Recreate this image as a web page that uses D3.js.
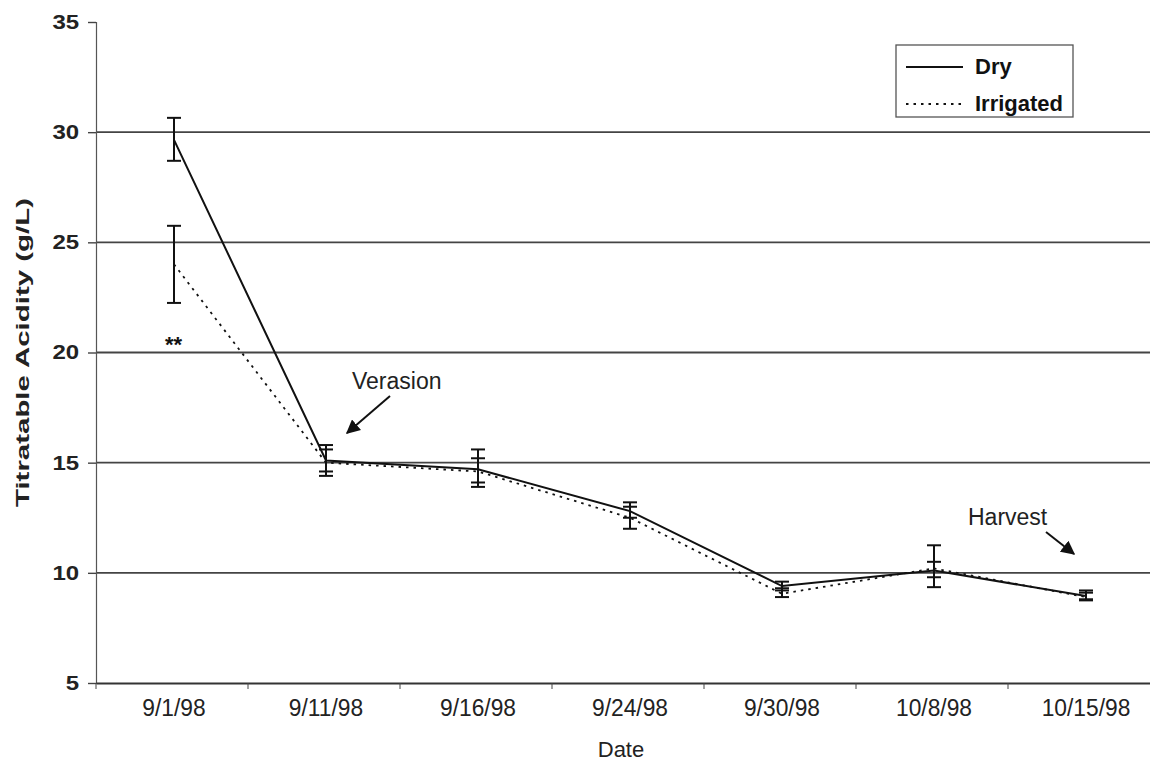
<!DOCTYPE html>
<html>
<head>
<meta charset="utf-8">
<script src="https://cdn.jsdelivr.net/npm/d3@7"></script>
<style>
  body { margin: 0; background: #fff; }
  svg { display: block; }
</style>
</head>
<body>
<svg id="chart" width="1150" height="764"></svg>
<script>
const dates = ["9/1/98", "9/11/98", "9/16/98", "9/24/98", "9/30/98", "10/8/98", "10/15/98"];
const dryMean = [29.65, 15.1, 14.7, 12.8, 9.4, 10.1, 8.95];
const dryLow = [28.7, 14.4, 13.9, 12.5, 9.2, 9.35, 8.8];
const dryHigh = [30.65, 15.8, 15.6, 13.2, 9.6, 11.25, 9.2];
const irrMean = [24.0, 15.0, 14.6, 12.5, 9.05, 10.2, 8.9];
const irrLow = [22.25, 14.6, 14.1, 12.0, 8.9, 9.8, 8.75];
const irrHigh = [25.75, 15.6, 15.2, 13.0, 9.3, 10.5, 9.1];
const yTicks = [5, 10, 15, 20, 25, 30, 35];

const svg = d3.select("#chart");
const font = "'Liberation Sans', Arial, sans-serif";

const margin = { left: 96, top: 22 };
const x = d3.scaleBand().domain(dates).range([margin.left, margin.left + 7 * 152]);
const y = d3.scaleLinear().domain([5, 35]).range([683, 22]);
const cx = (d) => x(d) + x.bandwidth() / 2 + 2;

// gridlines
svg.append("g")
  .selectAll("line")
  .data(yTicks.filter((t) => t > 5 && t < 35))
  .enter()
  .append("line")
  .attr("x1", margin.left)
  .attr("x2", 1150)
  .attr("y1", (d) => y(d))
  .attr("y2", (d) => y(d))
  .attr("stroke", "#444")
  .attr("stroke-width", 1.8);

// y axis
const yAxis = svg.append("g")
  .attr("transform", `translate(${margin.left},0)`)
  .call(d3.axisLeft(y).tickValues(yTicks).tickSize(8).tickPadding(6));
yAxis.select(".domain").attr("stroke", "#555").attr("stroke-width", 1.2);
yAxis.selectAll(".tick line").attr("stroke", "#444").attr("stroke-width", 1.4);
yAxis.selectAll("text")
  .attr("font-family", font)
  .attr("font-size", 20)
  .attr("font-weight", "bold")
  .attr("fill", "#222")
  .attr("transform", "scale(1.2,1)");

// x axis
const xAxis = svg.append("g")
  .attr("transform", `translate(0,${y(5)})`)
  .call(d3.axisBottom(x).tickSize(0));
xAxis.select(".domain").attr("stroke", "#333").attr("stroke-width", 2);
xAxis.selectAll(".tick")
  .attr("transform", (d) => `translate(${cx(d)},0)`);
xAxis.selectAll("text")
  .attr("y", 33)
  .attr("dy", 0)
  .attr("font-family", font)
  .attr("font-size", 24)
  .attr("fill", "#222")
  .attr("transform", "scale(0.95,1)");
svg.append("g")
  .selectAll("line")
  .data(dates)
  .enter()
  .append("line")
  .attr("x1", (d) => x(d))
  .attr("x2", (d) => x(d))
  .attr("y1", y(5))
  .attr("y2", y(5) + 6)
  .attr("stroke", "#444");

// titles
svg.append("text")
  .attr("transform", `translate(29,${(y(5) + y(35)) / 2}) rotate(-90) scale(1.55,1)`)
  .attr("text-anchor", "middle")
  .attr("font-family", font)
  .attr("font-size", 19)
  .attr("font-weight", "bold")
  .attr("fill", "#222")
  .text("Titratable Acidity (g/L)");
svg.append("text")
  .attr("x", 621)
  .attr("y", 757)
  .attr("text-anchor", "middle")
  .attr("font-family", font)
  .attr("font-size", 22)
  .attr("fill", "#222")
  .text("Date");

// series
const series = [
  { mean: irrMean, low: irrLow, high: irrHigh, dash: "2.5,5", width: 1.8 },
  { mean: dryMean, low: dryLow, high: dryHigh, dash: null, width: 2 },
];

const line = d3.line()
  .x((d) => cx(d.date))
  .y((d) => y(d.v));

series.forEach((s) => {
  const pts = dates.map((d, i) => ({ date: d, v: s.mean[i], lo: s.low[i], hi: s.high[i] }));
  svg.append("path")
    .datum(pts)
    .attr("fill", "none")
    .attr("stroke", "#111")
    .attr("stroke-width", s.width)
    .attr("stroke-dasharray", s.dash)
    .attr("d", line);

  const eb = svg.append("g")
    .selectAll("g")
    .data(pts)
    .enter()
    .append("g")
    .attr("stroke", "#111")
    .attr("stroke-width", 2);
  eb.append("line")
    .attr("x1", (d) => cx(d.date))
    .attr("x2", (d) => cx(d.date))
    .attr("y1", (d) => y(d.lo))
    .attr("y2", (d) => y(d.hi));
  eb.append("line")
    .attr("x1", (d) => cx(d.date) - 7)
    .attr("x2", (d) => cx(d.date) + 7)
    .attr("y1", (d) => y(d.hi))
    .attr("y2", (d) => y(d.hi));
  eb.append("line")
    .attr("x1", (d) => cx(d.date) - 7)
    .attr("x2", (d) => cx(d.date) + 7)
    .attr("y1", (d) => y(d.lo))
    .attr("y2", (d) => y(d.lo));
});

// significance marker
svg.append("text")
  .attr("x", cx(dates[0]) - 9)
  .attr("y", y(20) - 1)
  .attr("font-family", font)
  .attr("font-size", 22)
  .attr("font-weight", "bold")
  .attr("fill", "#111")
  .text("**");

// annotations with arrows
svg.append("defs")
  .append("marker")
  .attr("id", "arrow")
  .attr("viewBox", "0 0 10 10")
  .attr("refX", 9)
  .attr("refY", 5)
  .attr("markerWidth", 7)
  .attr("markerHeight", 7)
  .attr("orient", "auto")
  .append("path")
  .attr("d", "M0,0 L10,5 L0,10 Z")
  .attr("fill", "#111");

const notes = [
  { text: "Verasion", tx: 352, ty: 389, ax1: 390, ay1: 396, ax2: 347, ay2: 433 },
  { text: "Harvest", tx: 968, ty: 525, ax1: 1046, ay1: 532, ax2: 1074, ay2: 554 },
];
notes.forEach((n) => {
  svg.append("text")
    .attr("x", n.tx)
    .attr("y", n.ty)
    .attr("font-family", font)
    .attr("font-size", 23)
    .attr("fill", "#222")
    .text(n.text);
  svg.append("line")
    .attr("x1", n.ax1)
    .attr("y1", n.ay1)
    .attr("x2", n.ax2)
    .attr("y2", n.ay2)
    .attr("stroke", "#111")
    .attr("stroke-width", 2)
    .attr("marker-end", "url(#arrow)");
});

// legend
const legend = svg.append("g").attr("transform", "translate(896,45)");
legend.append("rect")
  .attr("width", 177)
  .attr("height", 72)
  .attr("fill", "#fff")
  .attr("stroke", "#555")
  .attr("stroke-width", 1.3);
[{ name: "Dry", dash: null, yy: 22 }, { name: "Irrigated", dash: "2.5,5", yy: 59 }].forEach((l) => {
  legend.append("line")
    .attr("x1", 10)
    .attr("x2", 67)
    .attr("y1", l.yy)
    .attr("y2", l.yy)
    .attr("stroke", "#111")
    .attr("stroke-width", 2)
    .attr("stroke-dasharray", l.dash);
  legend.append("text")
    .attr("x", 79)
    .attr("y", l.yy + 7)
    .attr("font-family", font)
    .attr("font-size", 22)
    .attr("font-weight", "bold")
    .attr("fill", "#111")
    .text(l.name);
});
</script>
</body>
</html>
